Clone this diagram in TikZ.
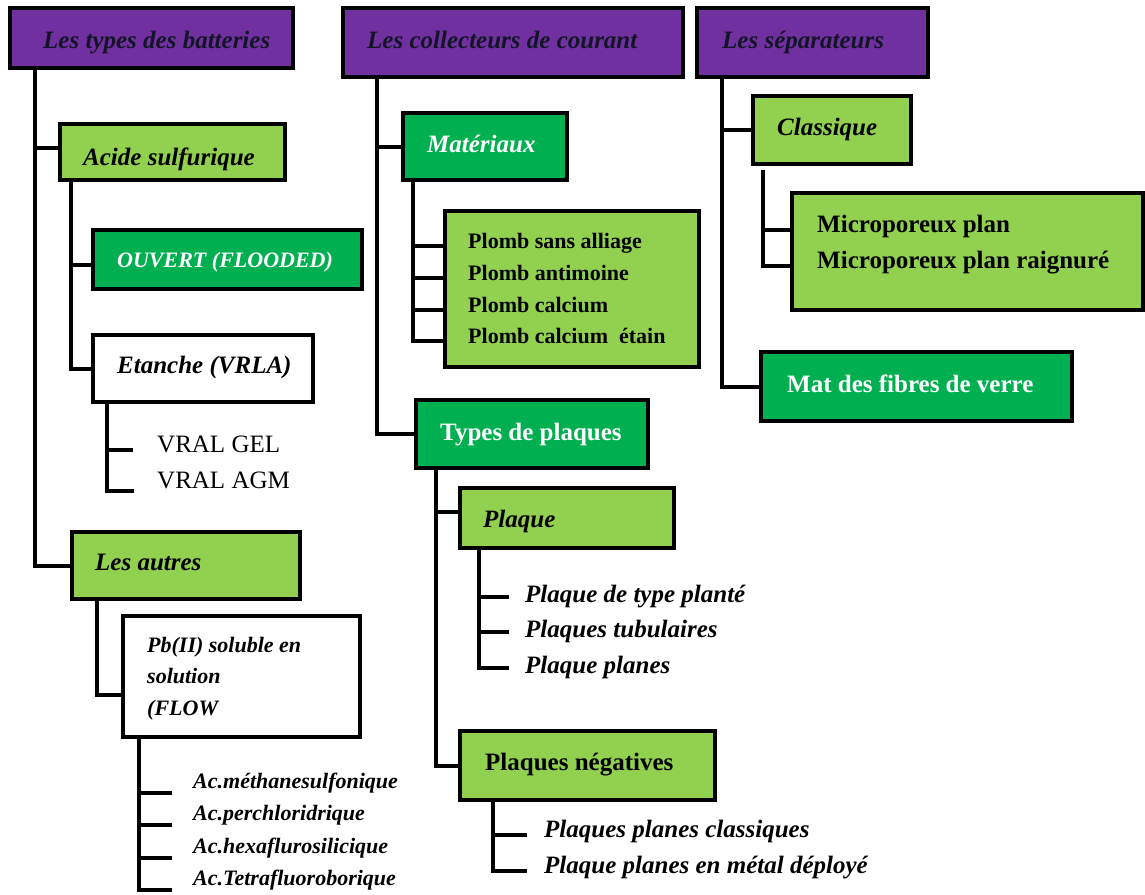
\documentclass[tikz,border=0pt]{standalone}
\usepackage{fontspec}
\setmainfont{Liberation Serif}
\definecolor{purp}{HTML}{7030A0}
\definecolor{lgr}{HTML}{92D050}
\definecolor{dgr}{HTML}{00B050}
\definecolor{hdrtxt}{HTML}{141428}
\newcommand\mybox[6]{\node[box, fill=#6, minimum width={#4-#2}, minimum height={#5-#3}] (#1) at (#2,#3) {};}
\begin{document}
\begin{tikzpicture}[x=1pt,y=-1pt,
  box/.style={draw=black, line width=4pt, anchor=north west, inner sep=0pt, outer sep=0pt},
  txt/.style={anchor=base west, inner sep=0pt},
  bi/.style={txt, font=\fontsize{25}{30}\selectfont\bfseries\itshape},
  bis/.style={txt, font=\fontsize{22}{26}\selectfont\bfseries\itshape},
  bu/.style={txt, font=\fontsize{25}{30}\selectfont\bfseries},
  bus/.style={txt, font=\fontsize{22}{26}\selectfont\bfseries},
  rg/.style={txt, font=\fontsize{25}{30}\selectfont},
  conn/.style={draw=black, line width=4pt}]
\useasboundingbox (0,0) rectangle (1145,894);

% boxes
\mybox{tb}{10}{8}{293}{68}{purp}
\mybox{cc}{343}{8}{683}{77}{purp}
\mybox{sp}{697}{8}{928}{77}{purp}
\mybox{acide}{60}{124}{285}{180}{lgr}
\mybox{ouvert}{93}{230}{362}{289}{dgr}
\mybox{etanche}{93}{335}{313}{402}{white}
\mybox{autres}{72}{532}{300}{599}{lgr}
\mybox{pb}{123}{616}{360}{737}{white}
\mybox{mat}{403}{113}{567}{180}{dgr}
\mybox{plomb}{445}{211}{699}{367}{lgr}
\mybox{types}{416}{400}{648}{468}{dgr}
\mybox{plaque}{460}{488}{674}{548}{lgr}
\mybox{neg}{460}{731}{715}{800}{lgr}
\mybox{classique}{753}{96}{911}{164}{lgr}
\mybox{micro}{792}{193}{1143}{310}{lgr}
\mybox{fibres}{761}{352}{1072}{421}{dgr}

% texts
\node[bi, text=hdrtxt] (tbT) at (43,48) {Les types des batteries};
\node[bi, text=hdrtxt] (ccT) at (367,48) {Les collecteurs de courant};
\node[bi, text=hdrtxt] (spT) at (722,48) {Les séparateurs};
\node[bi] (acideT) at (83,165) {Acide sulfurique};
\node[bis, text=white] (ouvertT) at (117,267) {OUVERT (FLOODED)};
\node[bi] (etancheT) at (117,373) {Etanche (VRLA)};
\node[rg] (gel) at (157,452) {VRAL GEL};
\node[rg] (agm) at (157,488) {VRAL AGM};
\node[bi] (autresT) at (95,570) {Les autres};
\node[bis] (pb1) at (147,652) {Pb(II) soluble en};
\node[bis] (pb2) at (147,683) {solution};
\node[bis] (pb3) at (147,715) {(FLOW};
\node[bis] (ac1) at (193,788) {Ac.méthanesulfonique};
\node[bis] (ac2) at (193,820) {Ac.perchloridrique};
\node[bis] (ac3) at (193,853) {Ac.hexaflurosilicique};
\node[bis] (ac4) at (193,885) {Ac.Tetrafluoroborique};
\node[bi, text=white] (matT) at (427,152) {Matériaux};
\node[bus] (p1) at (468,248) {Plomb sans alliage};
\node[bus] (p2) at (468,280) {Plomb antimoine};
\node[bus] (p3) at (468,312) {Plomb calcium};
\node[bus] (p4) at (468,343) {Plomb calcium\ \ étain};
\node[bu, text=white] (typesT) at (440,440) {Types de plaques};
\node[bi] (plaqueT) at (483,527) {Plaque};
\node[bi] (pl1) at (525,602) {Plaque de type planté};
\node[bi] (pl2) at (525,637) {Plaques tubulaires};
\node[bi] (pl3) at (525,673) {Plaque planes};
\node[bu] (negT) at (485,770) {Plaques négatives};
\node[bi] (n1) at (544,837) {Plaques planes classiques};
\node[bi] (n2) at (544,873) {Plaque planes en métal déployé};
\node[bi] (classiqueT) at (777,135) {Classique};
\node[bu] (m1) at (817,232) {Microporeux plan};
\node[bu] (m2) at (817,268) {Microporeux plan raignuré};
\node[bu, text=white] (fibresT) at (787,392) {Mat des fibres de verre};

% connectors - left column
\draw[conn] ([xshift=25pt]tb.south west) |- ([yshift=4pt]acide.west);
\draw[conn] ([xshift=25pt]tb.south west) |- (autres.west);
\draw[conn] ([xshift=11pt]acide.south west) |- ([yshift=-5pt]ouvert.west);
\draw[conn] ([xshift=11pt]acide.south west) |- (etanche.west);
\draw[conn, shorten >=24pt] ([xshift=14pt]etanche.south west) |- (gel.mid west);
\draw[conn, shorten >=23pt] ([xshift=14pt]etanche.south west) |- ([yshift=-3pt]agm.base west);
\draw[conn] ([xshift=25pt]autres.south west) |- ([yshift=-18pt]pb.west);
\foreach \a in {ac1,ac2,ac3,ac4}
  \draw[conn, shorten >=21pt] ([xshift=16pt]pb.south west) |- ([yshift=-5pt]\a.base west);

% middle column
\draw[conn] ([xshift=34pt]cc.south west) |- (mat.west);
\draw[conn] ([xshift=34pt]cc.south west) |- (types.west);
\foreach \p in {p1,p2,p3,p4}
  \draw[conn] ([xshift=10pt]mat.south west) |- (plomb.west |- \p.mid west);
\draw[conn] ([xshift=20pt]types.south west) |- ([yshift=6pt]plaque.west);
\draw[conn] ([xshift=20pt]types.south west) |- (neg.west);
\foreach \p in {pl1,pl2,pl3}
  \draw[conn, shorten >=16pt] ([xshift=19pt]plaque.south west) |- ([yshift=3pt]\p.mid west);
\foreach \p in {n1,n2}
  \draw[conn, shorten >=17pt] ([xshift=33pt]neg.south west) |- (\p.mid west);

% right column
\draw[conn] ([xshift=25pt]sp.south west) |- (classique.west);
\draw[conn] ([xshift=25pt]sp.south west) |- (fibres.west);
\foreach \m in {m1,m2}
  \draw[conn] ([xshift=10pt,yshift=-6pt]classique.south west) |- (micro.west |- \m.mid west);
\end{tikzpicture}
\end{document}
